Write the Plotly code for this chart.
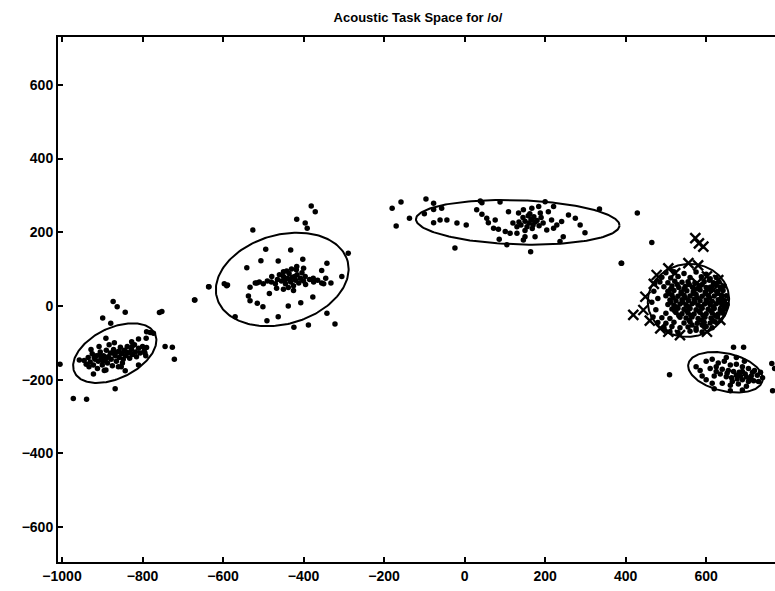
import numpy as np
import plotly.graph_objects as go

# ---------------- data ----------------
title_text = "Acoustic Task Space for /o/"
x_ticks = [-1000, -800, -600, -400, -200, 0, 200, 400, 600, 800]
y_ticks = [-600, -400, -200, 0, 200, 400, 600]

# ellipse parameters (centre, semi-axes, rotation in degrees)
ell_cx = [-869, -453, 132, 556, 648]
ell_cy = [-128, 72, 227, 15, -180]
ell_a = [113, 170, 253, 102, 95]
ell_b = [67, 120, 60, 98, 51]
ell_theta = [30, 20, -2, 30, -15]

# cluster 1 (left)
c1_pts = [(-873, 12), (-863, -2), (-843, -17), (-899, -33), (-879, -47), (-758, -18), (-752, -15),
          (-744, -110), (-726, -112), (-721, -145), (-868, -225), (-972, -251), (-939, -253),
          (-1005, -158), (-790, -70), (-781, -72), (-773, -74),
          (-891, -88), (-922, -185), (-957, -147), (-843, -176), (-853, -165), (-810, -160),
          (-810, -90), (-791, -88), (-794, -128), (-790, -113), (-827, -97), (-891, -174),
          (-935, -140), (-930, -152), (-925, -130), (-922, -160), (-918, -145), (-915, -135),
          (-912, -170), (-910, -150), (-905, -125), (-903, -142), (-900, -160), (-897, -135),
          (-893, -148), (-890, -120), (-887, -155), (-885, -138), (-880, -128), (-878, -145),
          (-875, -162), (-872, -118), (-868, -135), (-865, -150), (-862, -125), (-858, -140),
          (-855, -112), (-852, -130), (-848, -145), (-845, -120), (-842, -135), (-838, -110),
          (-835, -128), (-832, -142), (-828, -118), (-825, -132), (-820, -105), (-818, -125),
          (-815, -138), (-810, -115), (-806, -128), (-800, -110), (-796, -122), (-792, -135),
          (-940, -158), (-945, -148), (-928, -118), (-908, -110), (-883, -105), (-850, -155),
          (-860, -165), (-895, -175), (-870, -100), (-920, -140), (-907, -133), (-888, -140),
          (-874, -128), (-858, -122), (-840, -125), (-826, -110), (-933, -165), (-898, -150)]

# cluster 2
c2_pts = [(-671, 16), (-636, 52), (-591, 55),
          (-381, 271), (-371, 256), (-417, 235), (-396, 225), (-391, 211), (-526, 206),
          (-670, 16), (-635, 52), (-289, 143), (-322, -49), (-342, -20), (-388, -52), (-424, -58),
          (-570, -29), (-589, 57), (-597, 60),
          (-494, 154), (-432, 152), (-541, 104), (-506, 123), (-463, 122), (-402, 127), (-342, 116),
          (-355, 96), (-305, 80), (-332, 62), (-376, 75), (-417, 107), (-400, 102), (-450, 93),
          (-479, 80), (-516, 62), (-533, 51), (-537, 27), (-533, 14), (-515, 7), (-501, -2),
          (-485, 34), (-467, 48), (-438, 0), (-407, 9), (-377, 24), (-463, -29), (-491, -40),
          (-455, 68), (-450, 80), (-445, 60), (-440, 75), (-436, 88), (-432, 65), (-428, 78),
          (-425, 55), (-420, 70), (-416, 85), (-412, 62), (-408, 75), (-404, 90), (-400, 68),
          (-396, 80), (-442, 95), (-430, 100), (-418, 98), (-460, 85), (-465, 72), (-470, 60),
          (-480, 65), (-490, 68), (-500, 60), (-510, 65), (-520, 62), (-385, 72), (-375, 65),
          (-365, 70), (-355, 62), (-345, 75), (-350, 60), (-395, 58), (-438, 50), (-425, 42),
          (-450, 45), (-434, 72), (-422, 80), (-446, 70)]

# cluster 3
c3_pts = [(-158, 282), (-96, 290), (-170, 217), (-137, 238), (-24, 157), (164, 147), (335, 263),
          (429, 252), (390, 116), (-180, 265),
          (-77, 262), (-57, 265), (-61, 233), (-44, 233), (-77, 226), (-19, 225), (4, 220),
          (39, 285), (88, 282), (30, 261), (43, 249), (55, 238), (76, 233), (59, 226), (72, 211),
          (84, 208), (101, 202), (109, 256), (134, 252), (146, 261), (167, 265), (184, 270),
          (188, 252), (208, 256), (216, 233), (229, 220), (241, 229), (258, 247), (275, 238),
          (287, 220), (299, 199), (245, 188), (221, 211), (150, 188), (130, 197), (113, 197),
          (86, 181), (105, 166), (146, 179), (175, 188), (237, 175), (204, 206), (167, 233),
          (221, 270), (200, 283), (43, 280), (-77, 279), (-100, 250),
          (140, 220), (150, 230), (155, 215), (160, 225), (165, 235), (170, 220), (175, 228),
          (145, 240), (158, 245), (168, 210), (180, 232), (135, 228), (150, 205), (185, 218),
          (190, 240), (130, 215), (162, 250), (120, 225), (195, 225), (172, 242)]

# cluster 4 (dots)
c4_pts = [(389, 116), (465, 172),
          (500, 90), (520, 93), (545, 88), (575, 92), (600, 86),
          (490, 78), (512, 76), (530, 80), (560, 77), (588, 79), (610, 74), (625, 77),
          (485, 65), (505, 63), (522, 67), (540, 64), (555, 66), (572, 62), (595, 66), (618, 63), (632, 65),
          (495, 52), (515, 54), (532, 50), (548, 53), (566, 51), (582, 55), (600, 50), (615, 53), (635, 51), (645, 54),
          (505, 40), (520, 42), (538, 38), (552, 41), (568, 39), (585, 43), (598, 38), (612, 41), (628, 39), (642, 42),
          (500, 28), (515, 30), (530, 26), (545, 29), (560, 27), (575, 31), (590, 26), (605, 29), (620, 27), (638, 30), (650, 28),
          (510, 16), (525, 14), (540, 17), (556, 15), (570, 18), (585, 14), (600, 16), (615, 13), (630, 17), (645, 15),
          (505, 4), (520, 2), (535, 5), (550, 3), (565, 6), (580, 2), (596, 5), (610, 3), (625, 6), (640, 2), (652, 4),
          (515, -8), (530, -6), (545, -9), (560, -7), (575, -10), (590, -6), (605, -9), (620, -7), (635, -10), (648, -8),
          (500, -20), (525, -18), (540, -21), (555, -19), (570, -22), (585, -18), (600, -21), (615, -19), (630, -22), (642, -20),
          (490, -32), (510, -34), (535, -31), (550, -33), (565, -30), (580, -34), (597, -31), (612, -33), (628, -30),
          (480, -45), (500, -47), (520, -44), (545, -46), (560, -43), (578, -47), (595, -44), (610, -46), (622, -43),
          (495, -58), (515, -56), (535, -59), (555, -57), (575, -60), (600, -56), (615, -59),
          (510, -70), (530, -72), (560, -69), (590, -71),
          (470, 40), (465, 10), (475, -10), (472, 60), (480, 20), (468, -30),
          (608, 70), (528, 58), (558, 58), (590, 58), (625, 58),
          (512, 46), (545, 46), (575, 46), (605, 46), (636, 46), (508, 34), (538, 34), (568, 34),
          (598, 34), (628, 34), (518, 22), (548, 22), (578, 22), (608, 22), (638, 22), (512, 10),
          (542, 10), (572, 10), (604, 10), (634, 10), (524, -2), (556, -2), (588, -2), (618, -2),
          (645, -2), (522, -14), (552, -14), (582, -14), (612, -14), (640, -14), (532, -26),
          (562, -26), (592, -26), (622, -26), (558, -39), (588, -39), (616, -39), (565, -52),
          (590, -52), (575, -66)]

# cluster 4 (crosses)
c4x_pts = [(573, 184), (582, 170), (593, 161), (419, -24), (444, -11), (449, 25), (477, 84),
           (506, 102), (556, 116), (602, 80), (618, 43), (486, -61), (506, -70), (535, -79),
           (602, -70), (635, -38), (643, 7), (577, 62), (523, 89), (470, 60), (460, -40),
           (580, 110), (630, 70)]

# cluster 5
c5_pts = [(668, -112), (693, -112), (509, -187), (763, -156), (765, -230), (770, -170),
          (600, -150), (615, -145), (630, -155), (645, -150), (660, -160), (675, -158), (690, -165),
          (705, -170), (720, -175), (610, -170), (625, -165), (640, -172), (655, -175), (668, -178),
          (682, -180), (697, -185), (712, -190), (727, -188), (620, -190), (635, -185), (650, -192),
          (663, -195), (677, -198), (690, -200), (705, -205), (718, -203), (600, -200), (615, -210),
          (640, -210), (660, -215), (680, -212), (700, -218), (730, -205), (740, -195), (585, -175),
          (575, -165), (590, -190), (650, -140), (675, -140), (695, -150), (620, -225), (660, -230),
          (690, -228), (735, -180), (625, -178), (652, -183), (675, -188), (700, -193), (690, -178),
          (715, -180), (665, -205), (685, -190), (710, -198)]

# ---------------- figure ----------------
fig = go.Figure()

dots = c1_pts + c2_pts + c3_pts + c4_pts + c5_pts
fig.add_trace(go.Scatter(
    x=[p[0] for p in dots], y=[p[1] for p in dots], mode="markers",
    marker=dict(symbol="circle", size=5.5, color="black"), showlegend=False, hoverinfo="skip"))

fig.add_trace(go.Scatter(
    x=[p[0] for p in c4x_pts], y=[p[1] for p in c4x_pts], mode="markers",
    marker=dict(symbol="x-thin-open", size=10, color="black", line=dict(width=2.4, color="black")),
    showlegend=False, hoverinfo="skip"))

t = np.linspace(0, 2 * np.pi, 200)
for cx, cy, a, b, th in zip(ell_cx, ell_cy, ell_a, ell_b, ell_theta):
    r = np.deg2rad(th)
    ex = cx + a * np.cos(r) * np.cos(t) - b * np.sin(r) * np.sin(t)
    ey = cy + a * np.sin(r) * np.cos(t) + b * np.cos(r) * np.sin(t)
    fig.add_trace(go.Scatter(x=ex, y=ey, mode="lines", line=dict(color="black", width=2),
                             showlegend=False, hoverinfo="skip"))

font = dict(family="Liberation Sans, Arial, sans-serif", size=14, color="black", weight="bold")
fig.update_layout(
    width=775, height=591,
    margin=dict(l=58, r=0, t=37, b=29),
    paper_bgcolor="white", plot_bgcolor="white",
    font=font,
    title=dict(text=title_text, x=418 / 775, xref="container", xanchor="center",
               y=1 - 17 / 591, yref="container", yanchor="middle",
               font=dict(family="Liberation Sans, Arial, sans-serif", size=13, color="black",
                         weight="bold")),
    xaxis=dict(range=[-1010, 771], tickvals=x_ticks, ticks="inside", ticklen=5, tickwidth=1.5,
               tickcolor="black", showline=True, linecolor="black", linewidth=2,
               mirror="ticks", showgrid=False, zeroline=False, tickfont=font),
    yaxis=dict(range=[-695, 730], tickvals=y_ticks, ticks="inside", ticklen=5, tickwidth=1.5,
               tickcolor="black", showline=True, linecolor="black", linewidth=2,
               mirror=False, showgrid=False, zeroline=False, tickfont=font),
)

fig.write_html("out.html")
